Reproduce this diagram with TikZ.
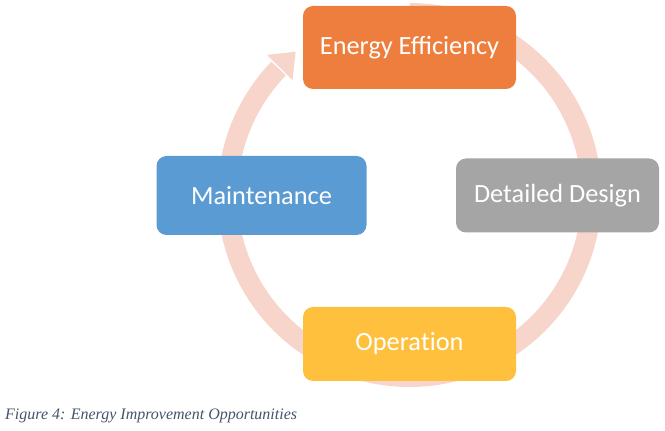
\documentclass[tikz,border=0pt]{standalone}
\usepackage{fontspec}
\usetikzlibrary{calc}
\setmainfont{Carlito}
\newfontfamily\capfont{Liberation Serif}
\definecolor{ringc}{HTML}{F8D5CB}
\definecolor{eec}{HTML}{EE7E3E}
\definecolor{ddc}{HTML}{A5A5A5}
\definecolor{mac}{HTML}{5A9BD3}
\definecolor{opc}{HTML}{FFC03E}
\definecolor{capc}{HTML}{44546A}
\begin{document}
\begin{tikzpicture}[x=1pt,y=1pt,
  stagebox/.style={rounded corners=10pt, text=white, inner sep=0pt,
    font=\fontsize{26.3}{30}\selectfont}]
\useasboundingbox (0,0) rectangle (665,431);
\coordinate (c) at (409.5,236);
% ring with arrowhead
\draw[ringc, line width=20pt] ($(c)+(90:182)$) arc[start angle=90, end angle=-224, radius=182];
\fill[ringc] ($(c)+(135.5:200)$) -- ($(c)+(128.5:183)$) -- ($(c)+(135.5:164)$) -- cycle;
% boxes
\node[stagebox, fill=eec, minimum width=213pt, minimum height=83pt] (ee) at (409.5,383.5) {Energy Efficiency};
\node[stagebox, fill=ddc, minimum width=203pt, minimum height=74pt] (dd) at (557.5,235.5) {Detailed Design};
\node[stagebox, fill=mac, minimum width=210pt, minimum height=79pt] (ma) at (261.5,235.5) {Maintenance};
\node[stagebox, fill=opc, minimum width=213pt, minimum height=74pt] (op) at (409.5,87) {Opera\mbox{t}ion};
% caption
\node[anchor=base west, inner sep=0pt, text=capc, font=\capfont\itshape\fontsize{16}{19}\selectfont] (cap) at (5,11) {Figure 4: Energy Improvement Opportunities};
\end{tikzpicture}
\end{document}
